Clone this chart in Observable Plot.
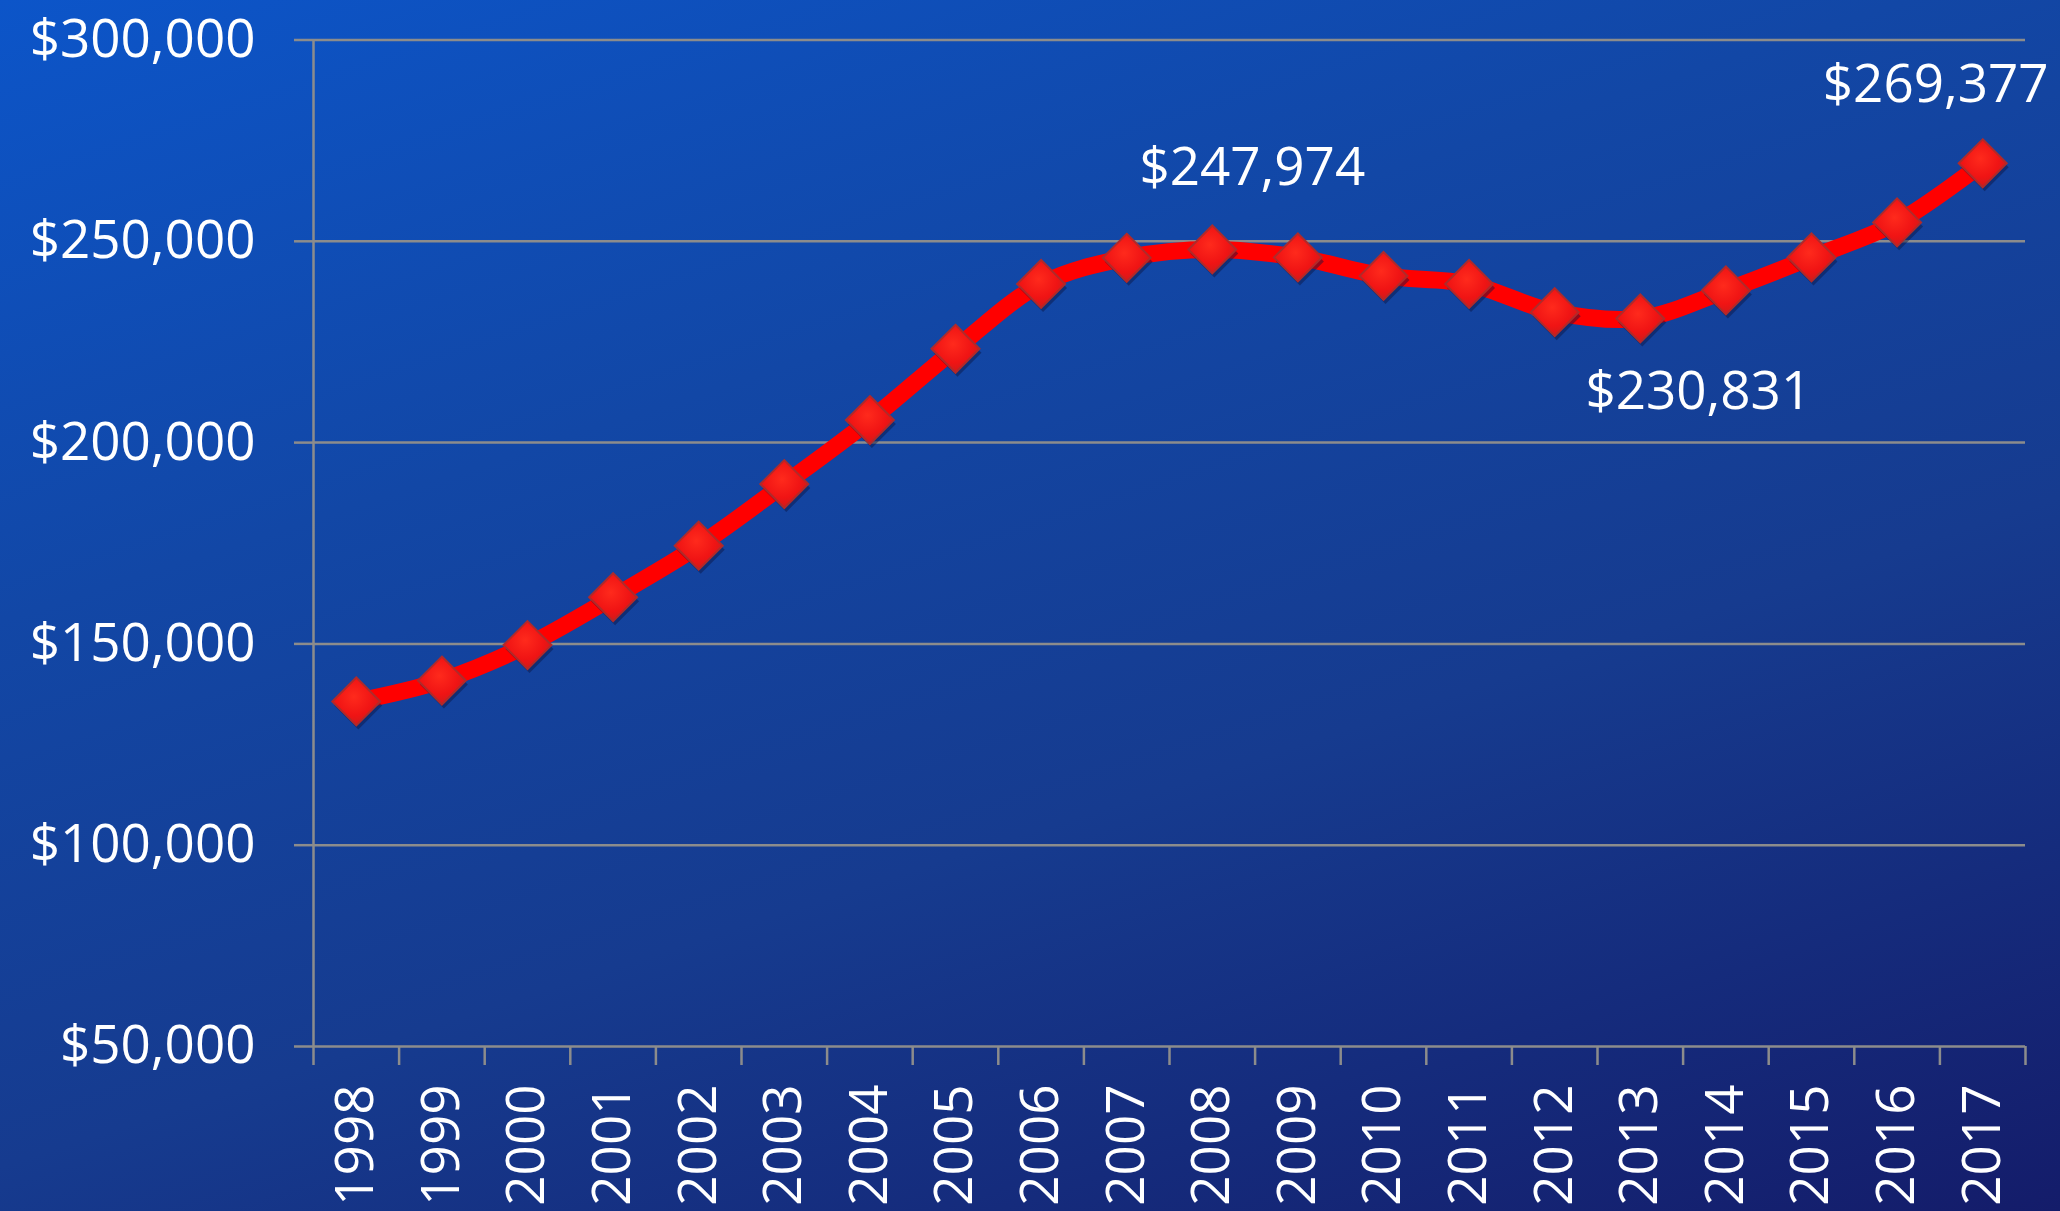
<!DOCTYPE html>
<html>
<head>
<meta charset="utf-8">
<script src="https://cdn.jsdelivr.net/npm/d3@7"></script>
<script src="https://cdn.jsdelivr.net/npm/@observablehq/plot@0.6"></script>
<style>
  html, body { margin: 0; padding: 0; }
  body {
    width: 2060px; height: 1211px; overflow: hidden;
    background: linear-gradient(162deg, #0c55c9 0%, #1247a6 33%, #163b8f 62%, #141c6a 100%);
    font-family: "Open Sans", sans-serif;
  }
  #chart svg { display: block; }
</style>
</head>
<body>
<div id="chart"></div>
<script>
// ---- data ----
const years = [1998, 1999, 2000, 2001, 2002, 2003, 2004, 2005, 2006, 2007,
               2008, 2009, 2010, 2011, 2012, 2013, 2014, 2015, 2016, 2017];
const prices = [135700, 140900, 149700, 161600, 174400, 189700, 205600, 223300, 239400, 245900,
                247974, 246000, 241400, 239400, 232400, 230831, 237800, 246000, 254700, 269377];
const yTicks = [50000, 100000, 150000, 200000, 250000, 300000];
const labelYears = [2008, 2013, 2017];

const data = years.map((year, i) => ({year, price: prices[i]}));
const boundaries = [...years.map(y => y - 0.5), years[years.length - 1] + 0.5];
const money = d => "$" + d3.format(",")(d);
const labelOf = yr => data.find(d => d.year === yr);

const grid = "#8c8c8c";
const fs = 53;

const chart = Plot.plot({
  width: 2060,
  height: 1211,
  marginLeft: 313,
  marginRight: 35,
  marginTop: 39.5,
  marginBottom: 165,
  style: {background: "transparent", color: "white", fontFamily: "'Open Sans', sans-serif", overflow: "visible"},
  x: {type: "linear", domain: [boundaries[0], boundaries[boundaries.length - 1]], label: null},
  y: {domain: [yTicks[0], yTicks[yTicks.length - 1]], label: null},
  marks: [
    Plot.gridY(yTicks, {stroke: grid, strokeWidth: 2.5, strokeOpacity: 1}),
    Plot.ruleX([boundaries[0]], {stroke: grid, strokeWidth: 2.5}),
    Plot.axisY(yTicks, {tickSize: 19, tickPadding: 39, tickFormat: money, fontSize: fs, stroke: grid, strokeWidth: 2.5, fill: "white", label: null}),
    Plot.axisX(boundaries, {tickSize: 19, tickFormat: () => "", stroke: grid, strokeWidth: 2.5, label: null}),
    Plot.axisX(years, {tickSize: 0, tickPadding: 38, tickRotate: -90, tickFormat: d => String(d), fontSize: fs, fill: "white", label: null}),
    Plot.line(data, {x: "year", y: "price", stroke: "#ff0000", strokeWidth: 17, curve: "catmull-rom"}),
    Plot.dot(data, {x: "year", y: "price", symbol: "diamond2", r: 21.6, fill: "#0a1440", fillOpacity: 0.45, dx: 2, dy: 4}),
    Plot.dot(data, {x: "year", y: "price", symbol: "diamond2", r: 21.6, fill: "url(#diamondGrad)", stroke: "#b02a2a", strokeWidth: 2}),
    Plot.text([labelOf(labelYears[0])], {x: "year", y: "price", text: d => money(d.price), dx: 40, dy: -81, fontSize: fs, fill: "white"}),
    Plot.text([labelOf(labelYears[1])], {x: "year", y: "price", text: d => money(d.price), dx: 58, dy: 74, fontSize: fs, fill: "white"}),
    Plot.text([labelOf(labelYears[2])], {x: "year", y: "price", text: d => money(d.price), dx: -47, dy: -78, fontSize: fs, fill: "white"})
  ]
});

const ns = "http://www.w3.org/2000/svg";
const defs = document.createElementNS(ns, "defs");
defs.innerHTML = `
  <radialGradient id="diamondGrad" cx="45%" cy="40%" r="65%">
    <stop offset="0%" stop-color="#ff2a1c"/>
    <stop offset="60%" stop-color="#f01414"/>
    <stop offset="100%" stop-color="#c81c1c"/>
  </radialGradient>`;
chart.insertBefore(defs, chart.firstChild);
document.getElementById("chart").appendChild(chart);
</script>
</body>
</html>
